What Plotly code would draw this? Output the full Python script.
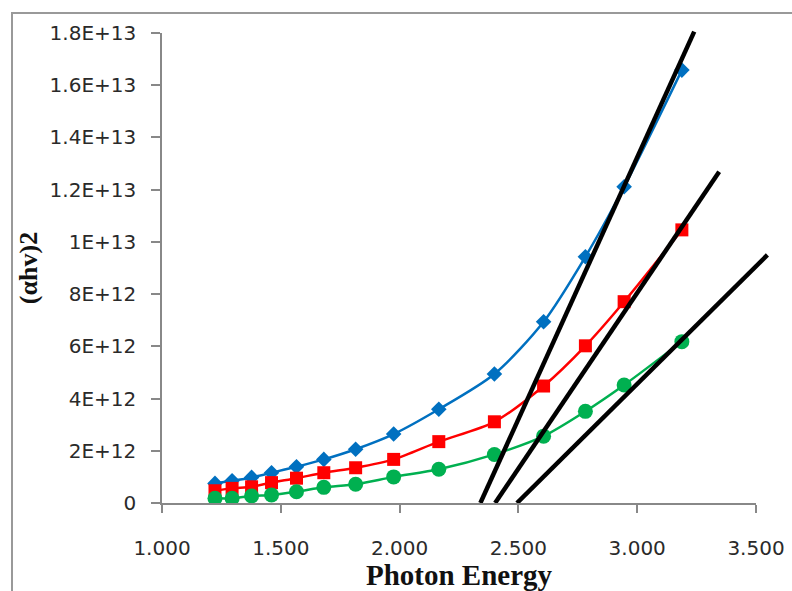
import plotly.graph_objects as go

# ---- data ----
energy = [1.223, 1.295, 1.377, 1.461, 1.566, 1.681, 1.815, 1.975, 2.165, 2.399, 2.606, 2.782, 2.945, 3.188]
blue_vals = [0.75e12, 0.85e12, 0.98e12, 1.16e12, 1.39e12, 1.67e12, 2.06e12, 2.64e12, 3.59e12, 4.94e12, 6.94e12, 9.43e12, 12.11e12, 16.58e12]
red_vals = [0.47e12, 0.56e12, 0.62e12, 0.78e12, 0.95e12, 1.16e12, 1.35e12, 1.67e12, 2.35e12, 3.11e12, 4.48e12, 6.02e12, 7.71e12, 10.46e12]
green_vals = [0.18e12, 0.18e12, 0.27e12, 0.31e12, 0.43e12, 0.60e12, 0.72e12, 1.00e12, 1.29e12, 1.86e12, 2.56e12, 3.51e12, 4.52e12, 6.18e12]

# tangent (band-gap extrapolation) lines: [x_start, x_end], [y_start, y_end]
tan1_x = [2.340, 3.240]
tan1_y = [0.0, 18.05e12]
tan2_x = [2.402, 3.345]
tan2_y = [0.0, 12.69e12]
tan3_x = [2.494, 3.548]
tan3_y = [0.0, 9.50e12]

x_tickvals = [1.0, 1.5, 2.0, 2.5, 3.0, 3.5]
x_ticktext = ["1.000", "1.500", "2.000", "2.500", "3.000", "3.500"]
y_tickvals = [0, 2e12, 4e12, 6e12, 8e12, 10e12, 12e12, 14e12, 16e12, 18e12]
y_ticktext = ["0", "2E+12", "4E+12", "6E+12", "8E+12", "1E+13", "1.2E+13", "1.4E+13", "1.6E+13", "1.8E+13"]

# ---- layout geometry ----
W, H = 792, 591
ML, MR, MT, MB = 162, 12, 25, 88
PW = W - ML - MR
PH = H - MT - MB
plot_right = 756
plot_top = 33
xdom_end = (plot_right - ML) / PW
ydom_end = (H - MB - plot_top) / PH
x_range = [1.0, 3.5]
y_range = [0, 18e12]
x2_range = [1.0, 1.0 + (x_range[1] - x_range[0]) / xdom_end]
y2_range = [0, y_range[1] / ydom_end]

axis_col = "#888888"
tick_font = dict(family="DejaVu Sans", size=20, color="#2a2a2a")
title_font = dict(family="Liberation Serif", size=29, color="#111111")

fig = go.Figure()

series = [
    (blue_vals, "#0070C0", "diamond", 12),
    (red_vals, "#FF0000", "square", 13),
    (green_vals, "#00B050", "circle", 15),
]
for vals, col, sym, sz in series:
    fig.add_trace(go.Scatter(
        x=energy, y=vals, mode="lines+markers",
        line=dict(color=col, width=2.5, shape="spline", smoothing=0.8),
        marker=dict(symbol=sym, size=sz, color=col, line=dict(width=0)),
        xaxis="x", yaxis="y", showlegend=False,
    ))

for tx, ty in [(tan1_x, tan1_y), (tan2_x, tan2_y), (tan3_x, tan3_y)]:
    fig.add_trace(go.Scatter(
        x=tx, y=ty, mode="lines",
        line=dict(color="#000000", width=4.5),
        xaxis="x2", yaxis="y2", showlegend=False,
    ))

fig.update_layout(
    width=W, height=H,
    margin=dict(l=ML, r=MR, t=MT, b=MB, pad=0, autoexpand=False),
    paper_bgcolor="white", plot_bgcolor="rgba(0,0,0,0)",
    showlegend=False,
    xaxis=dict(
        domain=[0, xdom_end], range=x_range, automargin=False,
        tickvals=x_tickvals, ticktext=x_ticktext,
        showgrid=False, zeroline=False,
        showline=True, linecolor=axis_col, linewidth=1.5,
        ticks="outside", ticklen=8, tickcolor=axis_col, tickwidth=1.5,
        ticklabelstandoff=18,
        tickfont=tick_font,
        title=dict(text="<b>Photon Energy</b>", font=title_font, standoff=7),
    ),
    yaxis=dict(
        domain=[0, ydom_end], range=y_range, automargin=False,
        tickvals=y_tickvals, ticktext=y_ticktext,
        showgrid=False, zeroline=False,
        showline=True, linecolor=axis_col, linewidth=1.5,
        ticks="outside", ticklen=9, tickcolor=axis_col, tickwidth=1.5,
        ticklabelstandoff=11,
        tickfont=tick_font,
        title=dict(text="<b>(αhv)2</b>", font=dict(family="Liberation Serif", size=26, color="#111111"), standoff=4),
    ),
    xaxis2=dict(domain=[0, 1], range=x2_range, visible=False, anchor="y2", automargin=False),
    yaxis2=dict(domain=[0, 1], range=y2_range, visible=False, anchor="x2", automargin=False),
    shapes=[dict(
        type="rect", xref="paper", yref="paper",
        x0=(12 - ML) / PW, x1=(805 - ML) / PW,
        y0=(H - MB - 600) / PH, y1=(H - MB - 13) / PH,
        line=dict(color="#999999", width=2), fillcolor="rgba(0,0,0,0)",
        layer="below",
    )],
)

fig.write_html("out.html")
